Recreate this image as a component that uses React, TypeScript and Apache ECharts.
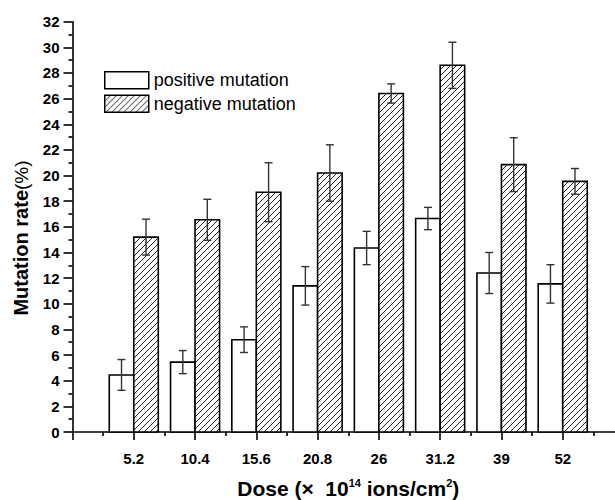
import React, { useEffect, useRef } from "react";
import * as echarts from "echarts";

const categories = ["5.2", "10.4", "15.6", "20.8", "26", "31.2", "39", "52"];
const positive = [4.45, 5.45, 7.2, 11.4, 14.35, 16.65, 12.4, 11.55];
const positiveErr = [1.2, 0.9, 1.0, 1.5, 1.3, 0.87, 1.6, 1.5];
const negative = [15.2, 16.55, 18.7, 20.2, 26.4, 28.6, 20.85, 19.55];
const negativeErr = [1.4, 1.6, 2.3, 2.2, 0.75, 1.8, 2.1, 1.0];
const seriesNames = ["positive mutation", "negative mutation"];

const FONT = 'Arial, "Liberation Sans", Helvetica, sans-serif';

function makeHatch(): HTMLCanvasElement {
  const s = 6;
  const c = document.createElement("canvas");
  c.width = s;
  c.height = s;
  const ctx = c.getContext("2d")!;
  ctx.fillStyle = "#ffffff";
  ctx.fillRect(0, 0, s, s);
  ctx.strokeStyle = "#222222";
  ctx.lineWidth = 1;
  ctx.beginPath();
  ctx.moveTo(0, s);
  ctx.lineTo(s, 0);
  ctx.moveTo(-s / 2, s / 2);
  ctx.lineTo(s / 2, -s / 2);
  ctx.moveTo(s / 2, (3 * s) / 2);
  ctx.lineTo((3 * s) / 2, s / 2);
  ctx.stroke();
  return c;
}

export default function App() {
  const ref = useRef<HTMLDivElement>(null);

  useEffect(() => {
    if (!ref.current) return;
    const chart = echarts.init(ref.current, undefined, { renderer: "svg" });
    const hatch = { image: makeHatch(), repeat: "repeat" } as any;
    const half = 0.4;

    const makeRender = (side: number, fill: any) => (params: any, api: any) => {
      const x = api.value(0);
      const v = api.value(1);
      const e = api.value(2);
      const x0 = side < 0 ? x - half : x;
      const x1 = side < 0 ? x : x + half;
      const a = api.coord([x0, v]);
      const b = api.coord([x1, 0]);
      const cx = api.coord([x + (side * half) / 2, v])[0];
      const top = api.coord([x, v + e])[1];
      const bot = api.coord([x, v - e])[1];
      const cap = 4;
      const eStyle = { stroke: "#333333", lineWidth: 1.4 };
      return {
        type: "group",
        children: [
          {
            type: "rect",
            shape: { x: a[0], y: a[1], width: b[0] - a[0], height: b[1] - a[1] },
            style: { fill, stroke: "#000000", lineWidth: 1.6 },
          },
          { type: "line", shape: { x1: cx, y1: top, x2: cx, y2: bot }, style: eStyle },
          { type: "line", shape: { x1: cx - cap, y1: top, x2: cx + cap, y2: top }, style: eStyle },
          { type: "line", shape: { x1: cx - cap, y1: bot, x2: cx + cap, y2: bot }, style: eStyle },
        ],
      };
    };

    const posData = categories.map((_, i) => [i + 1, positive[i], positiveErr[i]]);
    const negData = categories.map((_, i) => [i + 1, negative[i], negativeErr[i]]);

    chart.setOption({
      animation: false,
      backgroundColor: "#ffffff",
      textStyle: { fontFamily: FONT, color: "#000" },
      grid: { left: 72.5, right: -9, top: 21.7, bottom: 68, containLabel: false, outerBoundsMode: "none" },
      legend: {
        orient: "vertical",
        left: 99,
        top: 66,
        itemWidth: 44,
        itemHeight: 17,
        itemGap: 5,
        icon: "rect",
        data: seriesNames,
        textStyle: { fontFamily: FONT, fontSize: 18, color: "#000" },
        itemStyle: { borderColor: "#000", borderWidth: 1.5 },
      },
      graphic: [
        {
          type: "text",
          x: 21,
          y: 238,
          rotation: Math.PI / 2,
          style: {
            text: "{b|Mutation rate}{n|(%)}",
            align: "center",
            verticalAlign: "middle",
            rich: {
              b: { fontFamily: FONT, fontSize: 20, fontWeight: "bold", fill: "#000" },
              n: { fontFamily: FONT, fontSize: 19, fill: "#000" },
            },
          },
        },
      ],
      xAxis: {
        type: "value",
        min: 0,
        max: 9,
        interval: 1,
        splitLine: { show: false },
        axisLine: { show: true, onZero: false, lineStyle: { color: "#000", width: 1.6 } },
        axisTick: { show: true, inside: false, length: 8, lineStyle: { color: "#000", width: 1.6 } },
        minorTick: { show: true, splitNumber: 2, length: 4, lineStyle: { color: "#000", width: 1.6 } },
        axisLabel: {
          margin: 19,
          fontFamily: FONT,
          fontSize: 15,
          fontWeight: "bold",
          color: "#000",
          showMinLabel: false,
          showMaxLabel: false,
          formatter: (v: number) => {
            const i = Math.round(v) - 1;
            return Math.abs(v - Math.round(v)) < 1e-6 && i >= 0 && i < categories.length ? categories[i] : "";
          },
        },
        name: "{b|Dose (×  10}{s|14}{b| ions/cm}{s|2}{b|)}",
        nameLocation: "middle",
        nameGap: 45,
        nameTextStyle: {
          rich: {
            b: { fontFamily: FONT, fontSize: 21, fontWeight: "bold", color: "#000", lineHeight: 22 },
            s: { fontFamily: FONT, fontSize: 11, fontWeight: "bold", color: "#000", verticalAlign: "top", lineHeight: 22, padding: [0, 0, 6, 0] },
          },
        },
      },
      yAxis: {
        type: "value",
        min: 0,
        max: 32,
        interval: 2,
        splitLine: { show: false },
        axisLine: { show: true, lineStyle: { color: "#000", width: 1.6 } },
        axisTick: { show: true, inside: false, length: 9, lineStyle: { color: "#000", width: 1.6 } },
        minorTick: { show: true, splitNumber: 2, length: 4, lineStyle: { color: "#000", width: 1.6 } },
        axisLabel: { margin: 13, fontFamily: FONT, fontSize: 15, fontWeight: "bold", color: "#000" },
      },
      series: [
        {
          name: seriesNames[0],
          type: "custom",
          renderItem: makeRender(-1, "#ffffff"),
          itemStyle: { color: "#ffffff", borderColor: "#000", borderWidth: 1.5 },
          encode: { x: 0, y: 1 },
          data: posData,
        },
        {
          name: seriesNames[1],
          type: "custom",
          renderItem: makeRender(1, hatch),
          itemStyle: { color: hatch, borderColor: "#000", borderWidth: 1.5 },
          encode: { x: 0, y: 1 },
          data: negData,
        },
      ],
    });

    return () => chart.dispose();
  }, []);

  return (
    <div
      ref={ref}
      style={{ position: "fixed", left: 0, top: 0, width: 615, height: 500, background: "#fff" }}
    />
  );
}
